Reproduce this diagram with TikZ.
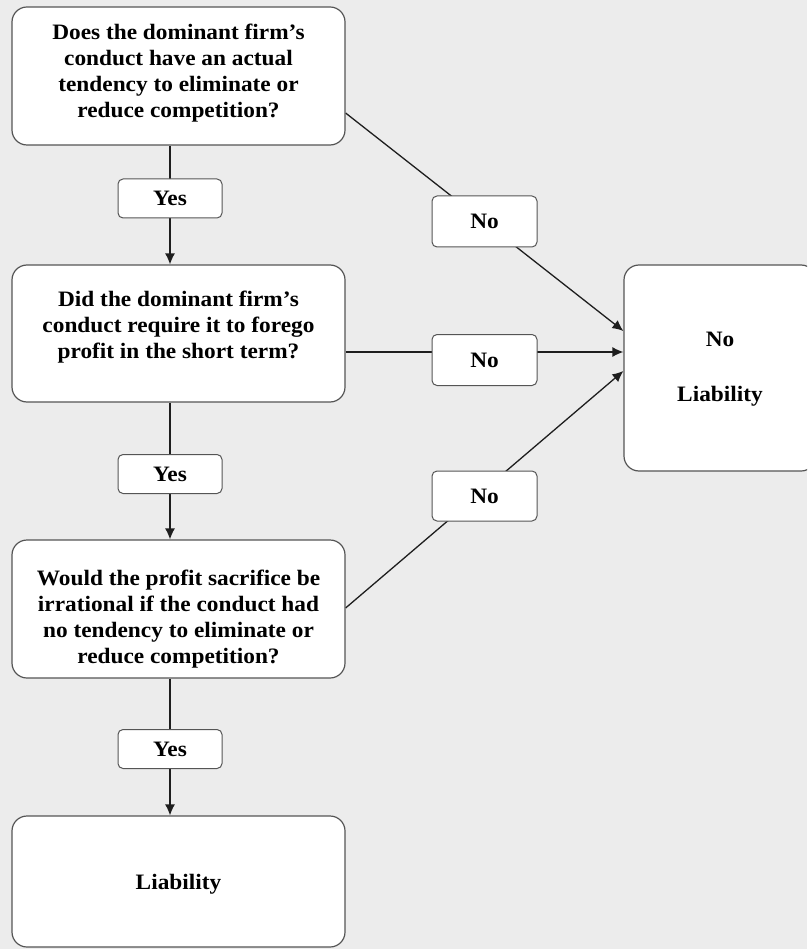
\documentclass[tikz,border=0pt]{standalone}
\usepackage{fontspec}
\setmainfont{Liberation Serif}[FakeStretch=1.06]
\usetikzlibrary{arrows.meta,calc}
\pgfdeclarelayer{bg}
\pgfsetlayers{bg,main}
\definecolor{bgc}{RGB}{236,236,236}
\definecolor{linec}{RGB}{30,30,30}
\definecolor{boxc}{RGB}{85,85,85}
\begin{document}
\begin{tikzpicture}[x=1pt,y=-1pt,
  txt/.style={font=\fontsize{22}{26}\selectfont\bfseries, align=center, inner sep=0pt},
  bigbox/.style={draw=boxc, line width=1.2pt, fill=white, rounded corners=15pt},
  lab/.style={txt, draw=boxc, line width=1pt, fill=white, rounded corners=5pt},
  conn/.style={draw=linec, line width=1.3pt},
  arr/.style={conn, -{Latex[length=11pt,width=10pt]}}]
\useasboundingbox (0,0) rectangle (807,949);
\clip (0,0) rectangle (807,949);
% boxes
\node[bigbox, minimum width=333pt, minimum height=138pt] (q1) at (178.5,76) {};
\node[txt] (q1t) at (178.5,73) {Does the dominant firm’s\\conduct have an actual\\tendency to eliminate or\\reduce competition?};
\node[bigbox, minimum width=333pt, minimum height=137pt] (q2) at (178.5,333.5) {};
\node[txt] (q2t) at (178.5,327) {Did the dominant firm’s\\conduct require it to forego\\profit in the short term?};
\node[bigbox, minimum width=333pt, minimum height=138pt] (q3) at (178.5,609) {};
\node[txt] (q3t) at (178.5,619) {Would the profit sacrifice be\\irrational if the conduct had\\no tendency to eliminate or\\reduce competition?};
\node[bigbox, minimum width=333pt, minimum height=131pt] (liab) at (178.5,881.5) {};
\node[txt] (liabt) at (178.5,884) {Liability};
\node[bigbox, minimum width=192pt, minimum height=206pt] (noliab) at (720,368) {};
\node[txt] (noliabt) at (720,369) {No\\[29pt]Liability};
% labels
\node[lab, minimum width=104pt, minimum height=39pt] (y1) at (170,198.5) {Yes};
\node[lab, minimum width=104pt, minimum height=39pt] (y2) at (170,474) {Yes};
\node[lab, minimum width=104pt, minimum height=39pt] (y3) at (170,749) {Yes};
\node[lab, minimum width=105pt, minimum height=51pt] (n1) at (484.5,221.5) {No};
\node[lab, minimum width=105pt, minimum height=51pt] (n2) at (484.5,360) {No};
\node[lab, minimum width=105pt, minimum height=50pt] (n3) at (484.5,496) {No};
% connectors
\begin{pgfonlayer}{bg}
\fill[bgc] (0,0) rectangle (807,949);
\draw[arr] (y1 |- q1.south) -- (y1 |- q2.north);
\draw[arr] (y2 |- q2.south) -- (y2 |- q3.north);
\draw[arr] (y3 |- q3.south) -- (y3 |- liab.north);
\draw[arr] ($(q1.east)+(0,37)$) -- ($(noliab.west)+(0,-37)$);
\draw[arr] ($(q2.east)+(0,18.5)$) -- ($(noliab.west)+(0,-16)$);
\draw[arr] ($(q3.east)+(0,-1)$) -- ($(noliab.west)+(0,3)$);
\end{pgfonlayer}
\end{tikzpicture}
\end{document}
